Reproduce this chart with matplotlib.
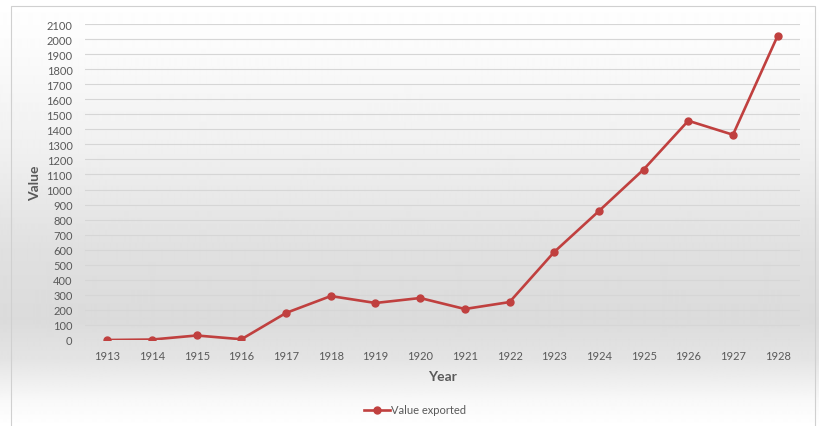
import numpy as np
import matplotlib
matplotlib.use('Agg')
import matplotlib.pyplot as plt
from matplotlib.patches import Rectangle

# Export values by year
years = ['1913', '1914', '1915', '1916', '1917', '1918', '1919', '1920',
         '1921', '1922', '1923', '1924', '1925', '1926', '1927', '1928']
value_exported = [0, 3, 30, 5, 180, 292, 246, 279,
                  206, 252, 585, 857, 1133, 1457, 1364, 2022]

y_ticks = list(range(0, 2101, 100))

TEXT = '#595959'
LINE = '#c0403f'
plt.rcParams['font.family'] = ['Lato', 'DejaVu Sans']

fig = plt.figure(figsize=(8.19, 4.27), dpi=100)

# vertical background gradient: white top, grey middle, white bottom
bg = fig.add_axes([0, 0, 1, 1], zorder=-2)
rows = np.arange(427)
stops_y = [0, 40, 150, 250, 320, 360, 400, 427]
stops_v = [255, 252, 240, 224, 219, 228, 248, 255]
shade = np.interp(rows, stops_y, stops_v) / 255.0
img = np.repeat(shade[:, None], 2, axis=1)
bg.imshow(img, cmap='gray', vmin=0, vmax=1, aspect='auto',
          extent=[0, 1, 0, 1], interpolation='bilinear')
bg.set_xlim(0, 1)
bg.set_ylim(0, 1)
bg.axis('off')
bg.add_patch(Rectangle((11 / 819, -0.01), (815 - 11) / 819, 1 - 7 / 427 + 0.01,
                       fill=False, edgecolor='#d0d0d0', linewidth=0.8,
                       transform=bg.transAxes))

ax = fig.add_axes([85 / 819, 1 - 341 / 427, 715 / 819, 316 / 427])
ax.patch.set_alpha(0)
x = np.arange(len(years))
ax.plot(x, value_exported, color=LINE, linewidth=1.9, marker='o',
        markersize=5, label='Value exported', zorder=3)

ax.set_xlim(-0.5, len(years) - 0.5)
ax.set_ylim(0, 2100)
ax.set_yticks(y_ticks)
ax.set_xticks(x)
ax.set_xticklabels(years)
ax.yaxis.grid(True, color='#d6d6d6', linewidth=0.8)
ax.set_axisbelow(True)
for s in ax.spines.values():
    s.set_visible(False)
ax.tick_params(axis='both', length=0, labelsize=8, labelcolor=TEXT)
ax.tick_params(axis='y', pad=9)
ax.tick_params(axis='x', pad=7)

ax.set_ylabel('Value', fontsize=10, fontweight='bold', color=TEXT, labelpad=4)
ax.set_xlabel('Year', fontsize=10, fontweight='bold', color=TEXT, labelpad=7)

leg = fig.legend(loc='center', bbox_to_anchor=(415 / 819, 1 - 411 / 427),
                 frameon=False, fontsize=8, handlelength=2.4,
                 handletextpad=0.1, labelcolor=TEXT)

fig.savefig('out.png', dpi=100)
